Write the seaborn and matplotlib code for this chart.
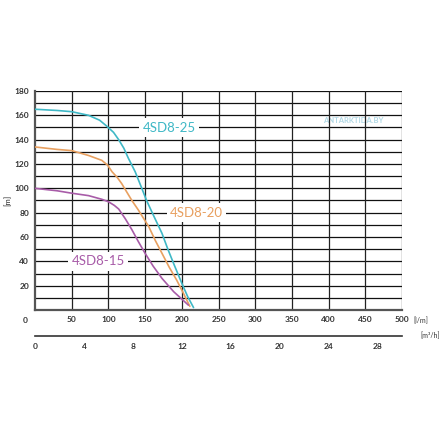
import pandas as pd
import matplotlib.pyplot as plt
import seaborn as sns

# pump curves, flow [l/min] vs head [m]
flow_25 = [0, 30, 50, 73, 88, 98, 107, 114, 121, 127, 136.5, 145.5, 152, 162, 173, 181, 189, 200, 208, 216]
head_25 = [165, 164, 163, 160, 156, 151, 146, 140, 133, 125, 113.6, 100, 90, 77, 63, 50, 38, 22, 11, 2]
flow_20 = [0, 30, 50, 73, 91, 99, 105, 112, 118, 125, 132, 141, 155, 164, 173, 183, 193, 202, 211]
head_20 = [134, 132, 131, 127, 123, 119, 113.6, 109, 104, 97, 90, 82, 68.5, 57, 46.6, 35, 24.6, 14, 3]
flow_15 = [0, 30, 50, 73, 91, 100, 108, 114, 123, 132, 141, 150, 161, 173, 189, 200, 209]
head_15 = [100, 98, 96, 94, 91, 89, 86, 83, 75, 66, 56, 46.6, 36, 26, 15, 9, 4]

names = ["4SD8-25", "4SD8-20", "4SD8-15"]
colors = ["#3fb8c6", "#e8a060", "#a85ca8"]
label_pos = [(183, 150), (220, 80), (86, 40)]

x_ticks = [50, 100, 150, 200, 250, 300, 350, 400, 450, 500]
y_ticks = [20, 40, 60, 80, 100, 120, 140, 160, 180]
m3_ticks = [0, 4, 8, 12, 16, 20, 24, 28]

frames = []
for n, fx, hy in [(names[0], flow_25, head_25), (names[1], flow_20, head_20), (names[2], flow_15, head_15)]:
    frames.append(pd.DataFrame({"flow": fx, "head": hy, "pump": n}))
df = pd.concat(frames, ignore_index=True)

sns.set_style("white")
plt.rcParams['font.family'] = ['Lato', 'DejaVu Sans']

fig = plt.figure(figsize=(4.4, 4.4), dpi=100)
ax = fig.add_axes([35/440, 1 - 310/440, 367/440, 219/440])

# grid
for yv in range(10, 181, 10):
    ax.axhline(yv, color="#111111", lw=0.9, zorder=1)
for xv in range(50, 501, 50):
    ax.axvline(xv, color="#222222", lw=0.9, zorder=1)

sns.lineplot(data=df, x="flow", y="head", hue="pump", palette=dict(zip(names, colors)),
             lw=1.2, legend=False, sort=False, ax=ax, zorder=3)

for n, c, (lx, ly) in zip(names, colors, label_pos):
    ax.text(lx, ly, n, color=c, fontsize=9.5, ha="center", va="center", zorder=4,
            bbox=dict(boxstyle="square,pad=0.25", fc="white", ec="none"))

ax.set_xlim(0, 500)
ax.set_ylim(0, 180)
ax.set_xticks(x_ticks)
ax.set_yticks(y_ticks)
ax.set_xlabel("")
ax.set_ylabel("[m]", fontsize=5.5, labelpad=2)
ax.tick_params(axis="both", length=2.5, width=2, direction="inout", labelsize=6, colors="black", pad=3)
for lab in ax.get_xticklabels() + ax.get_yticklabels():
    lab.set_fontweight("bold")
    lab.set_color("#333333")
for s in ["top", "right"]:
    ax.spines[s].set_visible(False)
for s in ["left", "bottom"]:
    ax.spines[s].set_color("#555555")
    ax.spines[s].set_linewidth(1.6)
ax.text(-14, -9, "0", fontsize=6, fontweight="bold", color="#333333", ha="center", va="center")
ax.text(526, -9, "[l/m]", fontsize=5, color="#333333", ha="center", va="center")

# watermark
ax.text(434, 156, "ANTARKTIDA.BY", fontsize=5.5, fontweight="bold", color="#9fd0e0",
        ha="center", va="center", alpha=0.8, zorder=0,
        bbox=dict(boxstyle="square,pad=0.1", fc="white", ec="none", alpha=0.6))

# second axis in m3/h
ax2 = fig.add_axes([35/440, 1 - 336/440, 367/440, 0.001])
ax2.set_xlim(0, 30)
ax2.set_xticks(m3_ticks)
ax2.set_yticks([])
for s in ["top", "right", "left"]:
    ax2.spines[s].set_visible(False)
ax2.spines["bottom"].set_color("#333333")
ax2.spines["bottom"].set_linewidth(1.2)
ax2.tick_params(axis="x", length=2.5, width=2, direction="inout", labelsize=6, pad=4)
for lab in ax2.get_xticklabels():
    lab.set_fontweight("bold")
    lab.set_color("#333333")
ax2.text(32.3, 0, "[m³/h]", fontsize=5, color="#333333", ha="center", va="center")

fig.savefig("out.png", dpi=100)
